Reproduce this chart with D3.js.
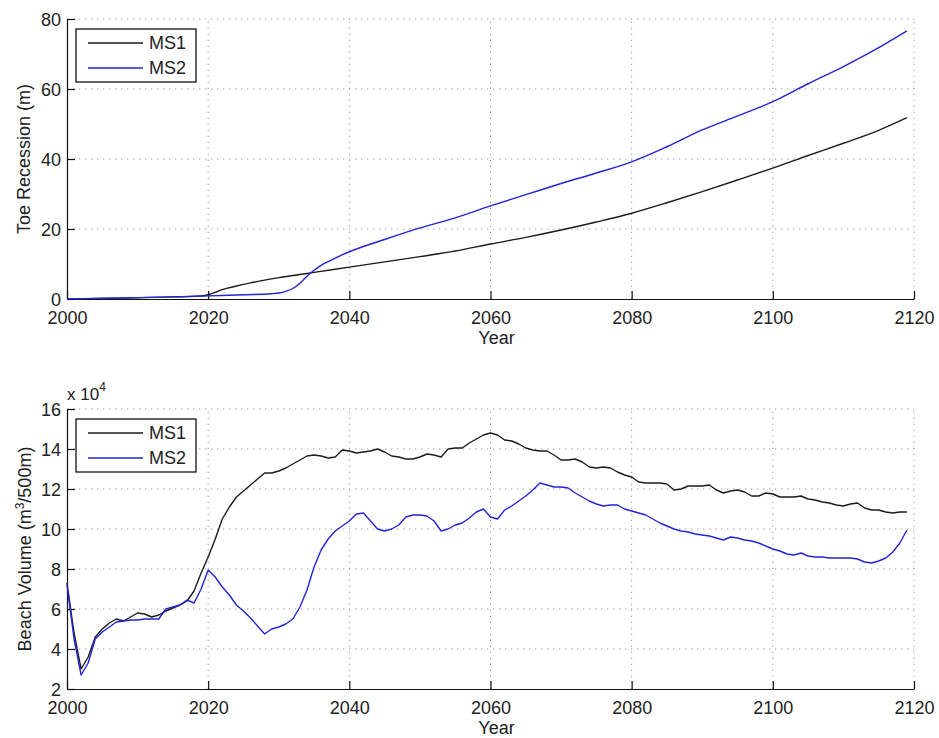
<!DOCTYPE html>
<html><head><meta charset="utf-8">
<script src="https://cdn.jsdelivr.net/npm/d3@7"></script>
<style>body{margin:0;background:#fff}svg{display:block}text{font-family:"Liberation Sans",Arial,sans-serif;fill:#222}</style>
</head><body><svg id="c" width="939" height="738"></svg>
<script>
// ---------- data ----------
const seriesNames = ["MS1", "MS2"];
const xTicks = [2000, 2020, 2040, 2060, 2080, 2100, 2120];
const toeTicks = [0, 20, 40, 60, 80];
const volTicks = [2, 4, 6, 8, 10, 12, 14, 16];

const toeYearsMS1 = [2000,2005,2010,2015,2019,2020,2021,2022,2024,2026,2028,2030,2033,2035,2040,2045,2050,2055,2060,2065,2070,2075,2080,2085,2090,2095,2100,2105,2110,2115,2119];
const toeMS1 = [0,0.15,0.35,0.6,0.9,1.2,1.9,2.7,3.7,4.6,5.4,6.1,7.0,7.6,9.1,10.6,12.1,13.7,15.7,17.6,19.7,22.0,24.5,27.5,30.7,34.0,37.4,41.0,44.5,48.2,51.8];

const toeYearsMS2 = [2000,2005,2010,2015,2020,2025,2029,2030,2031,2032,2033,2034,2035,2036,2037,2038,2040,2045,2050,2055,2060,2065,2070,2075,2080,2085,2090,2095,2100,2105,2110,2115,2119];
const toeMS2 = [0,0.2,0.4,0.6,0.9,1.2,1.5,1.7,2.2,3.0,4.5,6.5,8.2,9.6,10.7,11.7,13.5,17.0,20.3,23.2,26.6,29.8,33.0,36.0,39.2,43.5,48.3,52.3,56.4,61.5,66.4,71.8,76.6];

// Beach volume, annual from 2000 to 2119, in units of 1e4 m^3/500m
const volStartYear = 2000;
const volMS1 = [7.3,4.8,3.0,3.6,4.6,5.0,5.3,5.5,5.4,5.6,5.8,5.75,5.6,5.7,5.9,6.05,6.2,6.4,6.9,7.8,
8.6,9.5,10.5,11.1,11.6,11.9,12.2,12.5,12.8,12.8,12.9,13.05,13.25,13.45,13.65,13.7,13.65,13.55,13.6,13.95,
13.9,13.8,13.85,13.9,14.0,13.85,13.65,13.6,13.5,13.5,13.6,13.75,13.7,13.6,14.0,14.05,14.05,14.3,14.5,14.7,
14.8,14.7,14.45,14.4,14.25,14.05,13.95,13.9,13.9,13.7,13.45,13.45,13.5,13.35,13.1,13.05,13.1,13.05,12.85,12.7,
12.6,12.35,12.3,12.3,12.3,12.25,11.95,12.0,12.15,12.15,12.15,12.2,11.95,11.8,11.9,11.95,11.85,11.65,11.65,11.8,
11.75,11.6,11.6,11.6,11.65,11.5,11.45,11.35,11.3,11.2,11.15,11.25,11.3,11.05,10.95,10.95,10.85,10.8,10.85,10.85];
const volMS2 = [7.2,4.5,2.7,3.3,4.5,4.85,5.1,5.35,5.4,5.45,5.45,5.5,5.5,5.5,6.0,6.1,6.2,6.45,6.3,7.0,
7.95,7.6,7.1,6.7,6.2,5.9,5.55,5.15,4.75,5.0,5.1,5.25,5.5,6.1,6.95,8.1,8.95,9.5,9.9,10.15,
10.4,10.75,10.8,10.4,10.0,9.9,10.0,10.2,10.6,10.7,10.7,10.65,10.4,9.9,10.0,10.2,10.3,10.55,10.85,11.0,
10.6,10.5,10.95,11.15,11.4,11.65,11.95,12.3,12.2,12.1,12.1,12.05,11.8,11.6,11.4,11.25,11.15,11.2,11.2,11.0,
10.9,10.8,10.7,10.5,10.3,10.15,10.0,9.9,9.85,9.75,9.7,9.65,9.55,9.45,9.6,9.55,9.45,9.4,9.3,9.15,
9.0,8.9,8.75,8.7,8.8,8.65,8.6,8.6,8.55,8.55,8.55,8.55,8.5,8.35,8.3,8.4,8.55,8.85,9.3,9.95];

// ---------- drawing ----------
const svg = d3.select("#c");
const colors = {MS1: "#1c1c1c", MS2: "#2424d8"};
const X0 = 67, X1 = 914;

function panel(opt) {
  const x = d3.scaleLinear().domain([2000, 2120]).range([X0, X1]);
  const y = d3.scaleLinear().domain(opt.yDomain).range([opt.yBottom, opt.yTop]);
  const g = svg.append("g");
  // grid
  g.selectAll(".gx").data(xTicks.slice(1)).join("line")
    .attr("x1", d => x(d)).attr("x2", d => x(d)).attr("y1", opt.yBottom).attr("y2", opt.yTop)
    .attr("stroke", "#9a9a9a").attr("stroke-width", 1).attr("stroke-dasharray", "1.3,4.7");
  g.selectAll(".gy").data(opt.yTicks.slice(1)).join("line")
    .attr("y1", d => y(d)).attr("y2", d => y(d)).attr("x1", X0).attr("x2", X1)
    .attr("stroke", "#9a9a9a").attr("stroke-width", 1).attr("stroke-dasharray", "1.3,4.7");
  // axes
  const ax = g.append("g").attr("transform", `translate(0,${opt.yBottom})`)
    .call(d3.axisBottom(x).tickValues(xTicks).tickSize(-8).tickSizeOuter(0).tickPadding(12).tickFormat(d3.format("d")));
  const ay = g.append("g").attr("transform", `translate(${X0},0)`)
    .call(d3.axisLeft(y).tickValues(opt.yTicks).tickSize(-8).tickSizeOuter(0).tickPadding(7).tickFormat(d3.format("d")));
  [ax, ay].forEach(a => {
    a.select(".domain").attr("stroke", "#111").attr("stroke-width", 1.2);
    a.selectAll(".tick line").attr("stroke", "#111").attr("stroke-width", 1.2);
    a.selectAll("text").attr("font-size", 18).attr("fill", "#222")
      .style("font-family", '"Liberation Sans", Arial, sans-serif');
  });
  ax.selectAll("text").attr("dy", "0.71em").attr("y", 12);
  ay.selectAll("text").attr("dy", "0.34em").attr("x", -6);
  // lines
  const line = d3.line().x(d => x(d[0])).y(d => y(d[1])).curve(opt.curve);
  opt.series.forEach(s => {
    g.append("path").datum(s.data).attr("d", line).attr("fill", "none")
      .attr("stroke", colors[s.name]).attr("stroke-width", 1.4).attr("stroke-linejoin", "round");
  });
  // x label
  g.append("text").attr("x", (X0 + X1) / 2 + 6).attr("y", opt.yBottom + 44.5)
    .attr("text-anchor", "middle").attr("font-size", 18).text("Year");
  // legend
  const lg = g.append("g").attr("transform", `translate(76,${opt.yTop + 10})`);
  lg.append("rect").attr("width", 120).attr("height", 53).attr("fill", "#fff")
    .attr("stroke", "#111").attr("stroke-width", 1.3);
  seriesNames.forEach((n, i) => {
    const yy = 14 + i * 25;
    lg.append("line").attr("x1", 12).attr("x2", 67).attr("y1", yy).attr("y2", yy)
      .attr("stroke", colors[n]).attr("stroke-width", 1.4);
    lg.append("text").attr("x", 73).attr("y", yy).attr("dy", "0.36em").attr("font-size", 18).text(n);
  });
  return {x, y, g};
}

const topPanel = panel({
  yDomain: [0, 80], yTop: 19, yBottom: 299, yTicks: toeTicks, curve: d3.curveMonotoneX,
  series: [
    {name: "MS1", data: toeYearsMS1.map((yr, i) => [yr, toeMS1[i]])},
    {name: "MS2", data: toeYearsMS2.map((yr, i) => [yr, toeMS2[i]])}
  ]
});
topPanel.g.append("text").attr("transform", "translate(30,159) rotate(-90)")
  .attr("text-anchor", "middle").attr("font-size", 18).text("Toe Recession (m)");

const botPanel = panel({
  yDomain: [2, 16], yTop: 409, yBottom: 689, yTicks: volTicks, curve: d3.curveLinear,
  series: [
    {name: "MS1", data: volMS1.map((v, i) => [volStartYear + i, v])},
    {name: "MS2", data: volMS2.map((v, i) => [volStartYear + i, v])}
  ]
});
const yl = botPanel.g.append("text").attr("transform", "translate(31,549) rotate(-90)")
  .attr("text-anchor", "middle").attr("font-size", 18);
yl.append("tspan").text("Beach Volume (m");
yl.append("tspan").attr("font-size", 12).attr("dy", -7).text("3");
yl.append("tspan").attr("dy", 7).text("/500m)");

const ex = botPanel.g.append("text").attr("x", 67).attr("y", 400).attr("font-size", 17);
ex.append("tspan").text("x 10");
ex.append("tspan").attr("font-size", 12).attr("dy", -9).text("4");
</script></body></html>
